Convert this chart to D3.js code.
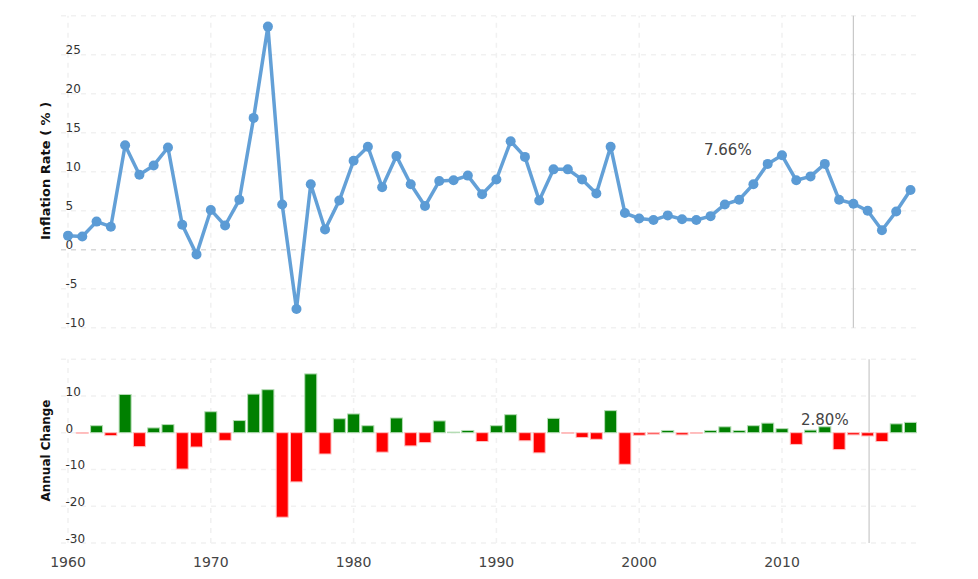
<!DOCTYPE html>
<html><head><meta charset="utf-8">
<script src="https://cdn.jsdelivr.net/npm/d3@7"></script>
<style>html,body{margin:0;background:#fff}svg{display:block}text{font-family:"DejaVu Sans",sans-serif}</style>
</head><body><svg id="c" width="978" height="579"></svg>
<script>
const years = d3.range(1960, 2020);
const inflation = [1.8,1.7,3.6,2.95,13.4,9.6,10.8,13.1,3.2,-0.6,5.1,3.1,6.4,16.9,28.6,5.8,-7.6,8.4,2.6,6.3,11.4,13.2,8.0,12.0,8.4,5.6,8.8,8.9,9.5,7.1,9.0,13.9,11.9,6.3,10.3,10.3,9.0,7.2,13.2,4.7,4.0,3.8,4.4,3.9,3.8,4.3,5.8,6.4,8.4,11.0,12.1,8.9,9.4,11.0,6.4,5.9,5.0,2.5,4.9,7.66];
const changeYears = d3.range(1961, 2020);
const change = [-0.15,1.9,-0.8,10.4,-3.8,1.3,2.2,-9.9,-3.9,5.7,-2.1,3.3,10.5,11.7,-23,-13.4,16,-5.8,3.8,5.1,1.9,-5.3,4,-3.6,-2.7,3.2,0.15,0.6,-2.4,1.9,4.9,-2.2,-5.5,3.9,-0.15,-1.3,-1.8,6,-8.6,-0.7,-0.4,0.6,-0.6,-0.15,0.6,1.6,0.6,1.9,2.6,1.1,-3.2,0.7,1.6,-4.6,-0.6,-0.9,-2.4,2.4,2.8];
const xTicks = [1960,1970,1980,1990,2000,2010];
const topTicks = [-10,-5,0,5,10,15,20,25,30];
const topLabels = [-10,-5,0,5,10,15,20,25];
const botTicks = [-30,-20,-10,0,10,20];
const botLabels = [-30,-20,-10,0,10];
const topMarkerYear = 2015, botMarkerYear = 2016.1;

const svg = d3.select("#c");
const x = d3.scaleLinear().domain([1960,2019]).range([68,910.5]);
const yT = d3.scaleLinear().domain([-10,30]).range([327.7,15.7]);
const yB = d3.scaleLinear().domain([-30,20]).range([542.9,359.2]);
const L = 61, R = 916;
const dash = "5,5", gridC = "#f1f1f1", tickC = "#333";

function grid(y, ticks, labels, dy){
  const g = svg.append("g");
  g.selectAll(".h").data(ticks).join("line")
    .attr("x1",L).attr("x2",R).attr("y1",d=>y(d)).attr("y2",d=>y(d))
    .attr("stroke",d=>d===0&&y===yT?"#d8d8d8":gridC)
    .attr("stroke-width",1.5).attr("stroke-dasharray",dash);
  g.selectAll(".v").data(xTicks).join("line")
    .attr("x1",d=>x(d)).attr("x2",d=>x(d)).attr("y1",y.range()[0]).attr("y2",y.range()[1])
    .attr("stroke",gridC).attr("stroke-width",1.5).attr("stroke-dasharray",dash);
  g.selectAll("text").data(labels).join("text")
    .attr("x",65.5).attr("y",d=>y(d)).attr("dy",dy)
    .attr("font-size",12).attr("fill",tickC).text(d=>d);
}
grid(yT, topTicks, topLabels, -0.5);
grid(yB, botTicks, botLabels, 0);

svg.append("line").attr("x1",x(topMarkerYear)).attr("x2",x(topMarkerYear)).attr("y1",yT(30)).attr("y2",yT(-10)).attr("stroke","#c8c8c8").attr("stroke-width",1.2);
svg.append("line").attr("x1",x(botMarkerYear)).attr("x2",x(botMarkerYear)).attr("y1",yB(20)).attr("y2",yB(-30)).attr("stroke","#c8c8c8").attr("stroke-width",1.2);

const line = d3.line().x((d,i)=>x(years[i])).y(d=>yT(d));
svg.append("path").datum(inflation).attr("d",line).attr("fill","none").attr("stroke","#5b9bd5").attr("stroke-width",3.5).attr("stroke-linejoin","round").attr("opacity",.95);
svg.selectAll(".pt").data(inflation).join("circle").attr("cx",(d,i)=>x(years[i])).attr("cy",d=>yT(d)).attr("r",5).attr("fill","#5b9bd5");

const bw = 12;
svg.selectAll(".bar").data(change).join("rect")
  .attr("x",(d,i)=>x(changeYears[i])-bw/2).attr("width",bw)
  .attr("y",d=>yB(Math.max(d,0))).attr("height",d=>Math.abs(yB(d)-yB(0)))
  .attr("fill",d=>d>=0?"#008000":"#ff0000")
  .attr("stroke",d=>d>=0?"#b5dcb5":"#ffc0c0").attr("stroke-width",1);

svg.selectAll(".xl").data(xTicks).join("text").attr("x",d=>x(d)).attr("y",566.5).attr("text-anchor","middle")
  .attr("font-size",14).attr("fill","#444").text(d=>d);

svg.append("text").attr("transform","translate(50,171) rotate(-90)").attr("text-anchor","middle").attr("font-size",13).attr("font-weight","bold").attr("fill","#111").text("Inflation Rate ( % )");
svg.append("text").attr("transform","translate(50,450.5) rotate(-90)").attr("text-anchor","middle").attr("font-size",12).attr("font-weight","bold").attr("fill","#111").text("Annual Change");

svg.append("text").attr("x",704).attr("y",155).attr("font-size",15).attr("fill","#444").text("7.66%");
svg.append("text").attr("x",801).attr("y",425).attr("font-size",15).attr("fill","#444").text("2.80%");
</script></body></html>
